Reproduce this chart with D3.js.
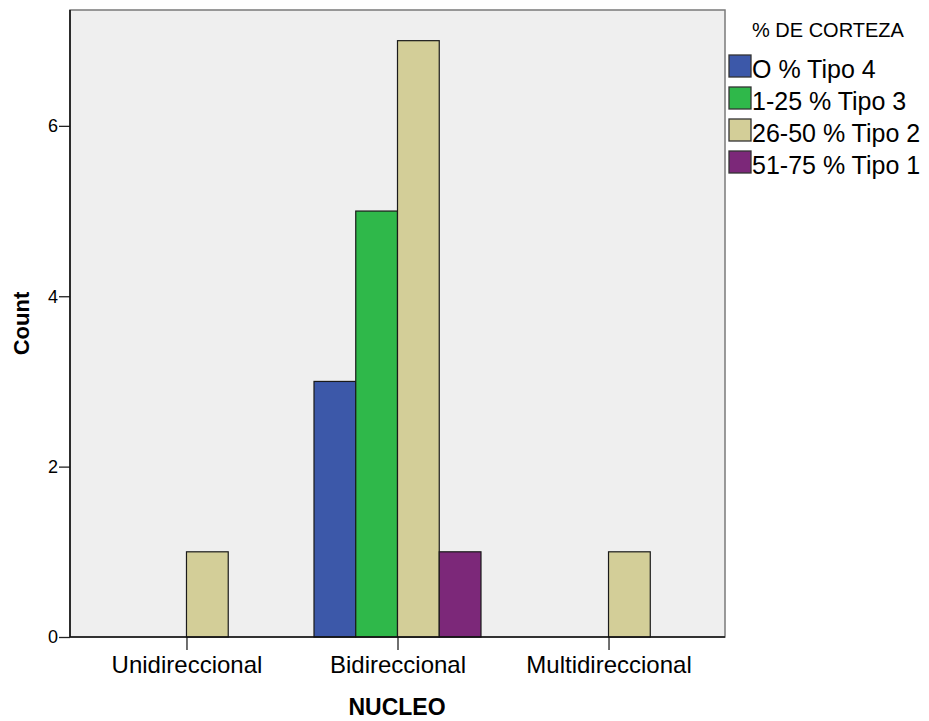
<!DOCTYPE html>
<html lang="es">
<head>
    <meta charset="UTF-8">
    <title>NUCLEO por % DE CORTEZA</title>
    <script src="https://d3js.org/d3.v7.min.js"></script>
    <style>
        body { margin: 0; background: #fff; }
        text { font-family: "Liberation Sans", Arial, sans-serif; fill: #000; }
        .bold { font-weight: bold; }
    </style>
</head>
<body>
<svg id="chart"></svg>
<script>
    // data
    const categories = ["Unidireccional", "Bidireccional", "Multidireccional"];
    const series = ["O % Tipo 4", "1-25 % Tipo 3", "26-50 % Tipo 2", "51-75 % Tipo 1"];
    const seriesColors = ["#3c58a9", "#2fb84a", "#d3ce98", "#7c2879"];
    // counts per series, one value per category (null = no bar)
    const tipo4 = [null, 3, null];
    const tipo3 = [null, 5, null];
    const tipo2 = [1, 7, 1];
    const tipo1 = [null, 1, null];
    const yTicks = [0, 2, 4, 6];

    const width = 929, height = 721;
    const plotLeft = 70, plotRight = 725, plotTop = 10, plotBottom = 637;

    const svg = d3.select("#chart").attr("width", width).attr("height", height);

    const x = d3.scalePoint().domain(categories).range([plotLeft, plotRight]).padding(0.552);
    const inner = d3.scaleBand().domain(series).range([-83.5, 83.5]).padding(0);
    const y = d3.scaleLinear().domain([0, 7.36]).range([plotBottom, plotTop]);

    // plot background
    svg.append("rect")
        .attr("x", plotLeft).attr("y", plotTop)
        .attr("width", plotRight - plotLeft).attr("height", plotBottom - plotTop)
        .attr("fill", "#efefef")
        .attr("stroke", "#7a7a7a").attr("stroke-width", 1.5);

    const allSeries = [tipo4, tipo3, tipo2, tipo1];
    const bars = [];
    allSeries.forEach(function (vals, i) {
        vals.forEach(function (v, j) {
            if (v != null) bars.push({s: series[i], c: categories[j], v: v, color: seriesColors[i]});
        });
    });

    svg.append("g").selectAll("rect")
        .data(bars)
        .enter().append("rect")
        .attr("x", d => x(d.c) + inner(d.s))
        .attr("y", d => y(d.v))
        .attr("width", inner.bandwidth())
        .attr("height", d => y(0) - y(d.v))
        .attr("fill", d => d.color)
        .attr("stroke", "#1a1a1a")
        .attr("stroke-width", 1.2);

    // y axis
    const yAxis = svg.append("g")
        .attr("transform", `translate(${plotLeft},0)`)
        .call(d3.axisLeft(y).tickValues(yTicks).tickSize(11).tickSizeOuter(0).tickPadding(1));
    yAxis.select(".domain").remove();
    yAxis.selectAll("text").style("font-size", "18px").style("font-family", "Liberation Sans, Arial, sans-serif").attr("fill", "#222");
    yAxis.selectAll("line").attr("stroke", "#222").attr("stroke-width", 1.3);
    svg.append("line").attr("x1", plotLeft).attr("x2", plotLeft).attr("y1", plotTop).attr("y2", plotBottom)
        .attr("stroke", "#111").attr("stroke-width", 1.6);

    // x axis
    const xAxis = svg.append("g")
        .attr("transform", `translate(0,${plotBottom})`)
        .call(d3.axisBottom(x).tickSize(13).tickSizeOuter(0).tickPadding(6));
    xAxis.select(".domain").remove();
    xAxis.selectAll("text").style("font-size", "24px").style("font-family", "Liberation Sans, Arial, sans-serif").attr("fill", "#222");
    xAxis.selectAll("line").attr("stroke", "#222").attr("stroke-width", 1.3);
    svg.append("line").attr("x1", plotLeft).attr("x2", plotRight).attr("y1", plotBottom).attr("y2", plotBottom)
        .attr("stroke", "#111").attr("stroke-width", 1.6);

    // axis titles
    svg.append("text").attr("class", "bold")
        .attr("transform", `translate(29,${(plotTop + plotBottom) / 2}) rotate(-90)`)
        .attr("text-anchor", "middle")
        .style("font-size", "22px")
        .text("Count");
    svg.append("text").attr("class", "bold")
        .attr("x", 397).attr("y", 715)
        .attr("text-anchor", "middle")
        .style("font-size", "23px")
        .text("NUCLEO");

    // legend
    const legend = svg.append("g");
    legend.append("text")
        .attr("x", 752).attr("y", 37)
        .style("font-size", "20px")
        .attr("fill", "#222")
        .text("% DE CORTEZA");
    const rows = legend.selectAll("g.row")
        .data(series)
        .enter().append("g")
        .attr("class", "row")
        .attr("transform", (d, i) => `translate(729,${55 + i * 32})`);
    rows.append("rect")
        .attr("width", 22).attr("height", 22)
        .attr("fill", (d, i) => seriesColors[i])
        .attr("stroke", "#333").attr("stroke-width", 1.3);
    rows.append("text")
        .attr("x", 23).attr("y", 23)
        .style("font-size", "25px")
        .attr("fill", "#222")
        .text(d => d);
</script>
</body>
</html>
